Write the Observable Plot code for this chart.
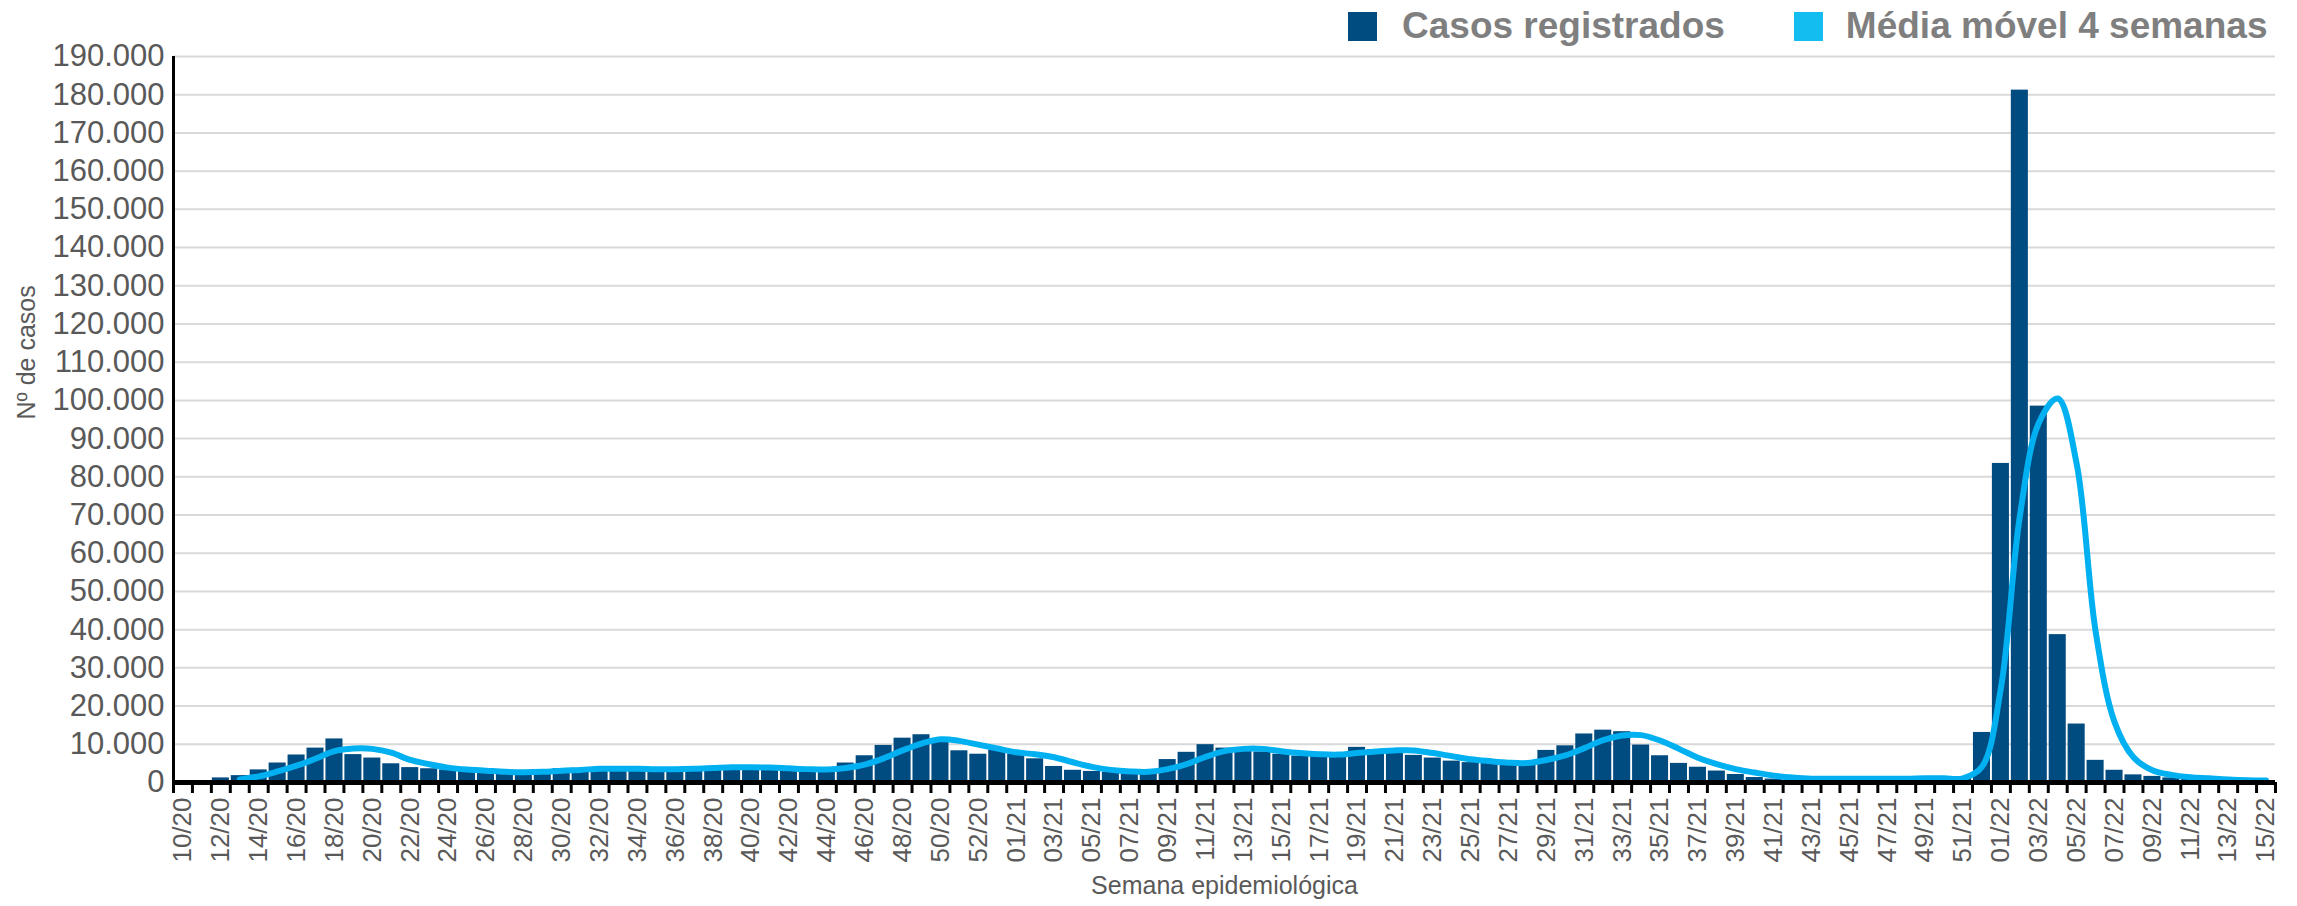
<!DOCTYPE html>
<html><head><meta charset="utf-8">
<script src="https://cdn.jsdelivr.net/npm/d3@7"></script>
<script src="https://cdn.jsdelivr.net/npm/@observablehq/plot@0.6"></script>
<style>
body{margin:0;background:#fff;}
#wrap{position:relative;width:2297px;height:906px;font-family:"Liberation Sans",Arial,sans-serif;}
#legend{position:absolute;top:6px;left:1348px;display:flex;align-items:center;font-weight:bold;font-size:37px;color:#7f7f7f;white-space:nowrap;line-height:40px}
.sw{display:inline-block;width:29px;height:29px;margin-right:25px}
</style></head><body>
<div id="wrap">
<div id="legend"><span class="sw" style="background:#004b80"></span><span>Casos registrados</span><span class="sw" style="background:#14bdf0;margin-left:69px;margin-right:23px"></span><span>Média móvel 4 semanas</span></div>
</div>
<script>
const weeks = `10/20 11/20 12/20 13/20 14/20 15/20 16/20 17/20 18/20 19/20 20/20 21/20 22/20 23/20 24/20 25/20 26/20 27/20 28/20 29/20 30/20 31/20 32/20 33/20 34/20 35/20 36/20 37/20 38/20 39/20 40/20 41/20 42/20 43/20 44/20 45/20 46/20 47/20 48/20 49/20 50/20 51/20 52/20 53/20
01/21 02/21 03/21 04/21 05/21 06/21 07/21 08/21 09/21 10/21 11/21 12/21 13/21 14/21 15/21 16/21 17/21 18/21 19/21 20/21 21/21 22/21 23/21 24/21 25/21 26/21 27/21 28/21 29/21 30/21 31/21 32/21 33/21 34/21 35/21 36/21 37/21 38/21 39/21 40/21 41/21 42/21 43/21 44/21 45/21 46/21 47/21 48/21 49/21 50/21 51/21 52/21
01/22 02/22 03/22 04/22 05/22 06/22 07/22 08/22 09/22 10/22 11/22 12/22 13/22 14/22 15/22`.trim().split(/\s+/);

const casos = [0,0,1200,1800,3300,5100,7200,9000,11400,7300,6400,4900,3900,3600,3300,2900,2600,2500,2600,3300,3600,3700,3700,3500,3400,3400,3500,4000,4200,4100,3800,3400,3300,3300,3400,5100,7000,9700,11600,12500,11300,8300,7400,8400,
7500,6200,4200,3200,2900,2700,2600,2800,6000,7900,9900,9000,8400,8000,7400,6900,7300,7300,9200,8600,8600,7100,6400,5600,5200,5000,5000,5200,8400,9600,12700,13700,13300,9800,7000,5000,4000,3000,2100,1300,900,900,1000,1000,1000,1000,1000,1100,1100,1000,1100,13100,
83500,181200,98500,38700,15300,5800,3200,2000,1600,1200,900,700,500,400,300];

const mediaMovel = [null,null,null,800,1600,2900,4400,6200,8200,8900,8800,7800,5900,4800,3900,3400,3100,2800,2700,2800,3100,3300,3600,3600,3600,3500,3500,3600,3800,4000,4000,3900,3700,3500,3400,3800,4700,6300,8400,10200,11300,10900,9900,8900,
7900,7400,6600,5300,4100,3300,2900,2800,3500,4800,6700,8200,8800,8800,8200,7700,7400,7300,7700,8100,8400,8400,7700,6900,6100,5600,5200,5100,5900,7100,9000,11100,12300,12400,11000,8800,6500,4800,3500,2600,1800,1300,1000,1000,1000,1000,1000,1000,1100,1100,1100,4100,
24700,69700,94100,100500,83400,39600,15800,6600,3200,2000,1400,1100,800,600,500];

const yTicks = [0,10000,20000,30000,40000,50000,60000,70000,80000,90000,100000,110000,120000,130000,140000,150000,160000,170000,180000,190000];
const xTickLabels = weeks.filter((d, i) => i % 2 === 0);

const data = weeks.map((w, i) => ({semana: w, casos: casos[i], media: mediaMovel[i]}));

const W = 2297, H = 906, mL = 173, mR = 22, mT = 56, mB = 124;
const step = (W - mL - mR) / weeks.length;
const fmt = d3.formatLocale({decimal: ",", thousands: ".", grouping: [3], currency: ["R$", ""]}).format(",d");
const gray = "#595959";

const chart = Plot.plot({
  width: W, height: H,
  marginLeft: mL, marginRight: mR, marginTop: mT, marginBottom: mB,
  style: {fontFamily: '"Liberation Sans", Arial, sans-serif', background: "transparent", color: gray},
  x: {domain: weeks, paddingInner: 0.1, paddingOuter: 0.05, axis: null, label: null},
  y: {domain: [0, 190000], axis: null, label: null},
  marks: [
    Plot.gridY(yTicks, {stroke: "#d9d9d9", strokeOpacity: 1, strokeWidth: 2}),
    Plot.barY(data, {x: "semana", y: "casos", fill: "#004b80"}),
    Plot.line(data, {x: "semana", y: "media", stroke: "#00b0f0", strokeWidth: 6, curve: "catmull-rom", strokeLinejoin: "round"}),
    Plot.ruleX([weeks[0]], {dx: -step / 2, stroke: "#000", strokeWidth: 3}),
    Plot.ruleY([0], {stroke: "#000", strokeWidth: 5}),
    Plot.axisX(weeks, {tickSize: 11, tickFormat: () => "", dx: -step / 2, stroke: "#000", strokeWidth: 3, label: null}),
    Plot.axisX([weeks[weeks.length - 1]], {tickSize: 11, tickFormat: () => "", dx: step / 2, stroke: "#000", strokeWidth: 3, label: null}),
    Plot.axisX(xTickLabels, {tickSize: 0, tickRotate: -90, tickPadding: 15, fontSize: 26, fill: gray, label: null}),
    Plot.axisY(yTicks, {tickSize: 0, tickPadding: 9, fontSize: 31, fill: gray, tickFormat: fmt, label: null}),
    Plot.text(["Nº de casos"], {text: d => d, frameAnchor: "left", dx: -147, rotate: -90, fontSize: 25, fill: gray}),
    Plot.text(["Semana epidemiológica"], {text: d => d, frameAnchor: "bottom", dy: 111, fontSize: 25, fill: gray})
  ]
});
document.getElementById("wrap").appendChild(chart);
chart.style.position = "absolute";
chart.style.left = "0";
chart.style.top = "0";
</script>
</body></html>
